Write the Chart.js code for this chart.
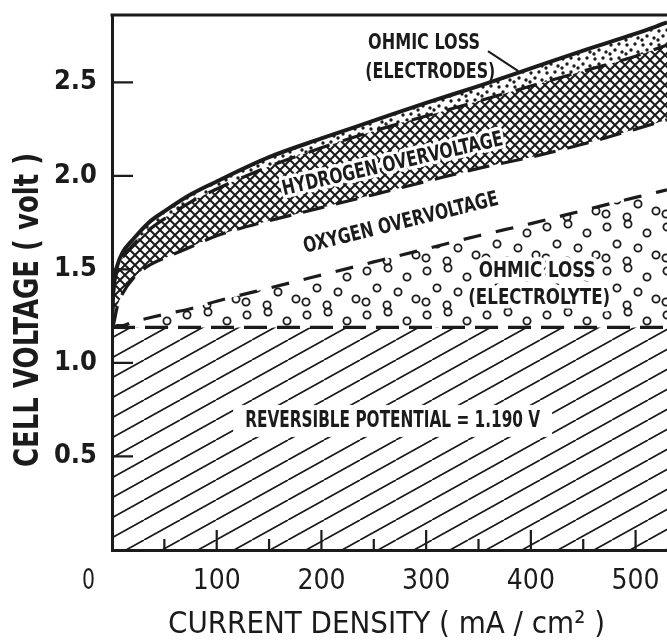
<!DOCTYPE html>
<html>
<head>
<meta charset="utf-8">
<script src="https://cdn.jsdelivr.net/npm/chart.js@4.4.0/dist/chart.umd.min.js"></script>
<style>
  html, body { margin: 0; padding: 0; background: #fff; }
</style>
</head>
<body>
<canvas id="chart" width="667" height="643"></canvas>
<script>
// values: current density in mA/cm2, voltages in volt
const currentDensity  = [0, 1, 2, 5, 10, 20, 35, 50, 75, 100, 150, 200, 250, 300, 350, 400, 450, 500, 530];
const reversibleVolt  = [1.19, 1.19, 1.19, 1.19, 1.19, 1.19, 1.19, 1.19, 1.19, 1.19, 1.19, 1.19, 1.19, 1.19, 1.19, 1.19, 1.19, 1.19, 1.19];
const electrolyteVolt = [1.19, 1.19, 1.19, 1.20, 1.20, 1.22, 1.24, 1.26, 1.29, 1.33, 1.40, 1.47, 1.54, 1.61, 1.68, 1.745, 1.815, 1.885, 1.925];
const oxygenVolt      = [1.19, 1.20, 1.22, 1.30, 1.37, 1.45, 1.52, 1.56, 1.62, 1.68, 1.76, 1.83, 1.90, 1.97, 2.04, 2.10, 2.17, 2.25, 2.30];
const hydrogenVolt    = [1.19, 1.33, 1.41, 1.49, 1.56, 1.63, 1.71, 1.77, 1.86, 1.93, 2.05, 2.15, 2.24, 2.32, 2.40, 2.48, 2.56, 2.64, 2.70];
const cellVolt        = [1.19, 1.36, 1.44, 1.52, 1.59, 1.66, 1.75, 1.81, 1.90, 1.97, 2.10, 2.20, 2.295, 2.39, 2.48, 2.575, 2.67, 2.76, 2.82];

const xTickValues  = [100, 200, 300, 400, 500];
const xMinorValues = [50, 150, 250, 350, 450];
const yTickValues  = [0.5, 1.0, 1.5, 2.0, 2.5];

const INK = '#1b1b1b';
const FONT = "'Liberation Sans Narrow', 'DejaVu Sans Condensed', 'Liberation Sans', sans-serif";

const canvas = document.getElementById('chart');
const ctx = canvas.getContext('2d');

// --- fill patterns (hatch, circles, cross-hatch, dots)
function makePattern(w, h, paint) {
  const c = document.createElement('canvas');
  c.width = w;
  c.height = h;
  const g = c.getContext('2d');
  g.strokeStyle = INK;
  g.fillStyle = INK;
  paint(g, w, h);
  return ctx.createPattern(c, 'repeat');
}

function wrapped(w, h, x, y, fn) {
  for (const dx of [-w, 0, w]) {
    for (const dy of [-h, 0, h]) fn(x + dx, y + dy);
  }
}

const hatchPattern = makePattern(36, 20, (g, w, h) => {
  g.lineWidth = 1.7;
  for (let k = -1; k <= 1; k++) {
    g.beginPath();
    g.moveTo(k * w, h);
    g.lineTo(k * w + w, 0);
    g.stroke();
  }
});

const circlePattern = makePattern(60, 44, (g, w, h) => {
  g.lineWidth = 1.8;
  const spots = [[7, 7], [28, 4], [47, 13], [17, 24], [38, 28], [56, 35], [6, 38], [27, 41]];
  spots.forEach(([x, y]) => wrapped(w, h, x, y, (px, py) => {
    g.beginPath();
    g.arc(px, py, 3.6, 0, Math.PI * 2);
    g.stroke();
  }));
});

const crossPattern = makePattern(10, 10, (g, w, h) => {
  g.lineWidth = 2;
  for (let k = -1; k <= 1; k++) {
    g.beginPath();
    g.moveTo(k * w, 0);
    g.lineTo(k * w + w, h);
    g.moveTo(k * w + w, 0);
    g.lineTo(k * w, h);
    g.stroke();
  }
});

const dotPattern = makePattern(16, 14, (g, w, h) => {
  const spots = [[3, 3], [11, 2], [7, 8], [14, 10], [2, 12]];
  spots.forEach(([x, y]) => wrapped(w, h, x, y, (px, py) => {
    g.beginPath();
    g.arc(px, py, 1.7, 0, Math.PI * 2);
    g.fill();
  }));
});

function series(label, values, extra) {
  return Object.assign({
    label: label,
    data: currentDensity.map((x, i) => ({ x: x, y: values[i] })),
    borderColor: INK,
    borderWidth: 3.2,
    pointRadius: 0,
    fill: false,
    cubicInterpolationMode: 'monotone',
  }, extra);
}

// --- text labels placed in data coordinates
const annotations = [
  { text: 'OHMIC LOSS', x: 298, y: 2.709, width: 112, size: 21, angle: 0 },
  { text: '(ELECTRODES)', x: 304, y: 2.553, width: 130, size: 21, angle: 0 },
  { text: 'HYDROGEN OVERVOLTAGE', x: 268, y: 2.06, width: 226, size: 21, angle: -12.9, halo: 7 },
  { text: 'OXYGEN OVERVOLTAGE', x: 276, y: 1.746, width: 200, size: 21, angle: -14, halo: 7 },
  { text: 'OHMIC LOSS', x: 406, y: 1.487, width: 117, size: 21, angle: 0, halo: 9 },
  { text: '(ELECTROLYTE)', x: 408, y: 1.345, width: 142, size: 21, angle: 0, halo: 9 },
  { text: 'REVERSIBLE POTENTIAL = 1.190 V', x: 268, y: 0.69, width: 295, size: 23, angle: 0, box: true },
];
const leaderLine = [[359, 2.667], [388, 2.56]];

function fitText(c, text, x, y, width, font, angle, halo, box) {
  c.save();
  c.font = font;
  const w = c.measureText(text).width;
  c.translate(x, y);
  c.rotate(angle * Math.PI / 180);
  if (box) {
    c.fillStyle = '#fff';
    c.fillRect(-width / 2 - 12, -16, width + 24, 32);
  }
  c.scale(width / w, 1);
  c.textAlign = 'center';
  c.textBaseline = 'middle';
  if (halo) {
    c.strokeStyle = '#fff';
    c.lineWidth = halo;
    c.lineJoin = 'round';
    c.strokeText(text, 0, 0);
  }
  c.fillStyle = INK;
  c.fillText(text, 0, 0);
  c.restore();
}

const paperPlugin = {
  id: 'paper',
  beforeDraw(chart) {
    const c = chart.ctx;
    c.save();
    c.fillStyle = '#fff';
    c.fillRect(0, 0, chart.width, chart.height);
    c.restore();
  },
};

const decorPlugin = {
  id: 'decor',
  afterDatasetsDraw(chart) {
    const c = chart.ctx;
    const xs = chart.scales.x, ys = chart.scales.y;
    annotations.forEach((a) => {
      fitText(c, a.text, xs.getPixelForValue(a.x), ys.getPixelForValue(a.y), a.width,
        'bold ' + a.size + 'px ' + FONT, a.angle, a.halo, a.box);
    });
    c.save();
    c.strokeStyle = INK;
    c.lineWidth = 2;
    c.beginPath();
    c.moveTo(xs.getPixelForValue(leaderLine[0][0]), ys.getPixelForValue(leaderLine[0][1]));
    c.lineTo(xs.getPixelForValue(leaderLine[1][0]), ys.getPixelForValue(leaderLine[1][1]));
    c.stroke();
    c.restore();
  },
  afterDraw(chart) {
    const c = chart.ctx;
    const area = chart.chartArea;
    const xs = chart.scales.x, ys = chart.scales.y;
    c.save();
    c.strokeStyle = INK;
    // top frame line
    c.lineWidth = 3;
    c.beginPath();
    c.moveTo(area.left - 1.5, area.top);
    c.lineTo(area.right, area.top);
    c.stroke();
    // inward tick marks
    c.lineWidth = 2.2;
    c.beginPath();
    xTickValues.forEach((v) => {
      const px = xs.getPixelForValue(v);
      c.moveTo(px, area.bottom);
      c.lineTo(px, area.bottom - 20);
    });
    xMinorValues.forEach((v) => {
      const px = xs.getPixelForValue(v);
      c.moveTo(px, area.bottom);
      c.lineTo(px, area.bottom - 11);
    });
    yTickValues.forEach((v) => {
      const py = ys.getPixelForValue(v);
      c.moveTo(area.left, py);
      c.lineTo(area.left + 21, py);
    });
    c.stroke();
    c.restore();

    // origin label and axis titles
    fitText(c, '0', area.left - 23.5, 582, 13, '28px ' + FONT, 0);
    fitText(c, 'CURRENT DENSITY ( mA / cm\u00B2 )', 386.5, 625, 437, '31px ' + FONT, 0);
    fitText(c, 'CELL VOLTAGE ( volt )', 29.5, 310, 314, 'bold 33px ' + FONT, -90);
  },
};

new Chart(ctx, {
  type: 'line',
  data: {
    datasets: [
      series('Reversible potential', reversibleVolt, { borderDash: [23, 10], fill: 'origin', backgroundColor: hatchPattern }),
      series('Ohmic loss (electrolyte)', electrolyteVolt, { borderDash: [18, 15], fill: '-1', backgroundColor: circlePattern }),
      series('Oxygen overvoltage', oxygenVolt, { borderDash: [22, 12] }),
      series('Hydrogen overvoltage', hydrogenVolt, { borderDash: [22, 14], fill: '-1', backgroundColor: crossPattern }),
      series('Ohmic loss (electrodes)', cellVolt, { borderWidth: 4, fill: '-1', backgroundColor: dotPattern }),
    ],
  },
  options: {
    responsive: false,
    animation: false,
    layout: { padding: { top: 15, left: 0, right: 0, bottom: 0 } },
    plugins: {
      legend: { display: false },
      tooltip: { enabled: false },
      filler: { drawTime: 'beforeDatasetsDraw' },
    },
    scales: {
      x: {
        type: 'linear',
        min: 0,
        max: 530,
        afterBuildTicks: (s) => { s.ticks = xTickValues.map((v) => ({ value: v })); },
        afterFit: (s) => {
          s.height = 93;
          s.paddingLeft = 0; s.paddingRight = 0; s.paddingTop = 0; s.paddingBottom = 0;
        },
        grid: { drawOnChartArea: false, drawTicks: false },
        border: { width: 3, color: INK },
        ticks: {
          color: INK,
          font: { family: FONT, size: 28 },
          padding: 15,
          maxRotation: 0,
          autoSkip: false,
          callback: (v) => String(v),
        },
      },
      y: {
        type: 'linear',
        min: 0,
        max: 2.86,
        afterBuildTicks: (s) => { s.ticks = yTickValues.map((v) => ({ value: v })); },
        afterFit: (s) => {
          s.width = 112;
          s.paddingLeft = 0; s.paddingRight = 0; s.paddingTop = 0; s.paddingBottom = 0;
        },
        grid: { drawOnChartArea: false, drawTicks: false },
        border: { width: 3, color: INK },
        ticks: {
          color: INK,
          font: { family: FONT, size: 27, weight: 'bold' },
          padding: 15,
          autoSkip: false,
          callback: (v) => Number(v).toFixed(1),
        },
      },
    },
  },
  plugins: [paperPlugin, decorPlugin],
});
</script>
</body>
</html>
